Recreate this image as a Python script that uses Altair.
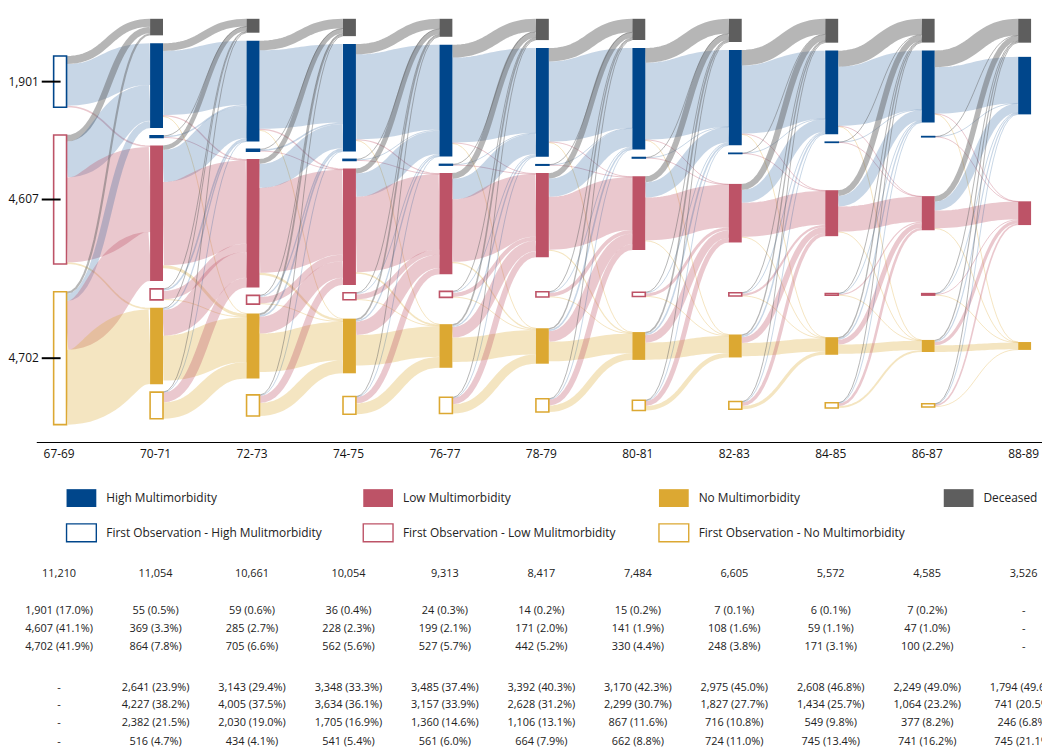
import altair as alt
import pandas as pd

# ---------------- data ----------------
periods = ["67-69", "70-71", "72-73", "74-75", "76-77", "78-79",
           "80-81", "82-83", "84-85", "86-87", "88-89"]
totals = [11210, 11054, 10661, 10054, 9313, 8417, 7484, 6605, 5572, 4585, 3526]

first_high = [1901, 55, 59, 36, 24, 14, 15, 7, 6, 7, None]
first_high_pct = [17.0, 0.5, 0.6, 0.4, 0.3, 0.2, 0.2, 0.1, 0.1, 0.2, None]
first_low = [4607, 369, 285, 228, 199, 171, 141, 108, 59, 47, None]
first_low_pct = [41.1, 3.3, 2.7, 2.3, 2.1, 2.0, 1.9, 1.6, 1.1, 1.0, None]
first_no = [4702, 864, 705, 562, 527, 442, 330, 248, 171, 100, None]
first_no_pct = [41.9, 7.8, 6.6, 5.6, 5.7, 5.2, 4.4, 3.8, 3.1, 2.2, None]

high = [None, 2641, 3143, 3348, 3485, 3392, 3170, 2975, 2608, 2249, 1794]
high_pct = [None, 23.9, 29.4, 33.3, 37.4, 40.3, 42.3, 45.0, 46.8, 49.0, 49.6]
low = [None, 4227, 4005, 3634, 3157, 2628, 2299, 1827, 1434, 1064, 741]
low_pct = [None, 38.2, 37.5, 36.1, 33.9, 31.2, 30.7, 27.7, 25.7, 23.2, 20.5]
no = [None, 2382, 2030, 1705, 1360, 1106, 867, 716, 549, 377, 246]
no_pct = [None, 21.5, 19.0, 16.9, 14.6, 13.1, 11.6, 10.8, 9.8, 8.2, 6.8]
deceased = [None, 516, 434, 541, 561, 664, 662, 724, 745, 741, 745]
deceased_pct = [None, 4.7, 4.1, 5.4, 6.0, 7.9, 8.8, 11.0, 13.4, 16.2, 21.1]

# flows between consecutive waves
# rows: source state H, FH, L, FL, N, FN ; columns: target Deceased, High, Low, No
SRC = ["H", "FH", "L", "FL", "N", "FN"]
TGT = ["D", "H", "L", "N"]
flows = [
    [[0, 0, 0, 0], [250, 1300, 50, 0], [0, 0, 0, 0], [200, 1120, 2650, 50], [0, 0, 0, 0], [66, 221, 1527, 2332]],
    [[240, 2000, 40, 10], [3, 45, 2, 0], [140, 1000, 2600, 90], [12, 50, 260, 20], [30, 40, 800, 1400], [9, 8, 303, 510]],
    [[300, 2450, 40, 10], [4, 48, 2, 0], [150, 750, 2650, 70], [12, 40, 200, 20], [55, 50, 520, 1200], [20, 10, 222, 405]],
    [[320, 2650, 35, 5], [3, 30, 1, 0], [160, 727, 2350, 50], [12, 30, 160, 15], [50, 40, 420, 950], [16, 8, 191, 340]],
    [[400, 2650, 30, 5], [3, 19, 1, 0], [180, 640, 1950, 40], [12, 30, 130, 15], [50, 40, 330, 760], [19, 13, 187, 286]],
    [[420, 2500, 25, 5], [2, 11, 1, 0], [170, 570, 1650, 35], [12, 25, 115, 12], [42, 50, 330, 610], [16, 14, 178, 205]],
    [[460, 2400, 20, 5], [2, 12, 1, 0], [185, 475, 1336, 30], [12, 25, 90, 10], [50, 50, 230, 531], [15, 13, 150, 140]],
    [[485, 2125, 20, 5], [1, 5, 1, 0], [190, 400, 1058, 25], [10, 20, 65, 8], [40, 45, 180, 411], [19, 13, 110, 100]],
    [[500, 1850, 15, 3], [1, 4, 1, 0], [180, 330, 783, 20], [6, 12, 35, 4], [40, 40, 150, 290], [14, 13, 80, 60]],
    [[520, 1450, 10, 2], [1, 5, 1, 0], [170, 280, 552, 15], [5, 10, 28, 3], [35, 35, 100, 206], [14, 14, 50, 20]],
]

legend_labels = ["High Multimorbidity", "Low Multimorbidity", "No Multimorbidity", "Deceased",
                 "First Observation - High Mulitmorbidity", "First Observation - Low Mulitmorbidity",
                 "First Observation - No Multimorbidity"]

# ---------------- styles / layout constants ----------------
FONT = "Open Sans"
COLOR = {"H": "#00468b", "L": "#bd5367", "N": "#dca832", "D": "#5e5e5e"}
LINK_OP = {"H": 0.22, "L": 0.32, "N": 0.3, "D": 0.45}
PLOT_W, PLOT_H = 1013, 745
LEFT = 37                      # page x of the plot's left edge
COL_STEP, COL0 = 97.2, 23.5
NODE_W = 13 / COL_STEP
EXT_Y0, EXT_Y1, PAD = 8.0, 411.0, 8.0
FIRST_PAD, FIRST_BOTTOM = 28.0, 417.0
KINDS = ["D", "H", "FH", "L", "FL", "N", "FN"]


def exists(c, k):
    return c >= 1 if k in ("D", "H", "L", "N") else c <= 9


# ---------------- sankey layout: nodes kept on horizontal lanes ----------------
nodes, cols, by = [], [[] for _ in periods], {}
for c in range(len(periods)):
    for k in KINDS:
        if exists(c, k):
            n = {"c": c, "k": k, "sl": [], "tl": [], "i": len(nodes)}
            nodes.append(n); cols[c].append(n); by[(c, k)] = n
links = []
for t, tab in enumerate(flows):
    for si, sk in enumerate(SRC):
        if (t, sk) not in by:
            continue
        for ti, tk in enumerate(TGT):
            v = tab[si][ti]
            if v > 0:
                l = {"s": by[(t, sk)], "t": by[(t + 1, tk)], "v": v, "i": len(links)}
                links.append(l); l["s"]["sl"].append(l); l["t"]["tl"].append(l)
for n in nodes:
    n["v"] = max(sum(l["v"] for l in n["sl"]), sum(l["v"] for l in n["tl"]))


def col_ky(c):
    return (EXT_Y1 - EXT_Y0 - (len(cols[c]) - 1) * PAD) / sum(n["v"] for n in cols[c])


dense = min(range(len(cols)), key=col_ky)
ky = col_ky(dense)

# lanes: centres of the densest wave when packed from the top
lane, y = {}, EXT_Y0
for n in cols[dense]:
    lane[n["k"]] = y + n["v"] * ky / 2
    y += n["v"] * ky + PAD

for ci, col in enumerate(cols):
    pad = FIRST_PAD if ci == 0 else PAD
    bottom = FIRST_BOTTOM if ci == 0 else EXT_Y1
    for n in col:
        h = n["v"] * ky
        key = n["k"] if ci > 0 else n["k"][1:]
        n["y0"] = EXT_Y0 if key == "D" else lane[key] - h / 2
        n["y1"] = n["y0"] + h
    # push overlapping nodes down, then back up from the bottom
    y = EXT_Y0
    for n in col:
        d = y - n["y0"]
        if d > 0:
            n["y0"] += d; n["y1"] += d
        y = n["y1"] + pad
    y = bottom
    for n in reversed(col):
        d = n["y1"] - y
        if d > 0:
            n["y0"] -= d; n["y1"] -= d
        y = n["y0"] - pad

for l in links:
    l["w"] = l["v"] * ky
for n in nodes:
    n["sl"].sort(key=lambda l: (l["t"]["y0"], l["i"]))
    n["tl"].sort(key=lambda l: (l["s"]["y0"], l["i"]))
    a = n["y0"]
    for l in n["sl"]:
        l["y0"] = a + l["w"] / 2; a += l["w"]
    b = n["y0"]
    for l in n["tl"]:
        l["y1"] = b + l["w"] / 2; b += l["w"]

# ---------------- tables for marks ----------------
NPTS = 24
link_rows = []
for l in links:
    xs = l["s"]["c"] + NODE_W / 2
    xt = l["t"]["c"] - NODE_W / 2
    xm = (xs + xt) / 2
    tk = l["t"]["k"]
    for j in range(NPTS + 1):
        u = j / NPTS
        b0, b1, b2, b3 = (1 - u) ** 3, 3 * (1 - u) ** 2 * u, 3 * (1 - u) * u ** 2, u ** 3
        link_rows.append({
            "lid": l["i"], "k": j,
            "x": b0 * xs + (b1 + b2) * xm + b3 * xt,
            "y": (b0 + b1) * l["y0"] + (b2 + b3) * l["y1"],
            "w": max(1.0, l["w"]), "col": COLOR[tk], "op": LINK_OP[tk],
        })
df_links = pd.DataFrame(link_rows)

node_rows = []
for n in nodes:
    k = n["k"]
    fo = k.startswith("F")
    base = COLOR[k[1:] if fo else k]
    node_rows.append({
        "x": n["c"] - NODE_W / 2, "x2": n["c"] + NODE_W / 2,
        "y": n["y0"], "y2": n["y1"],
        "fill": "#ffffff" if fo else base, "stroke": base, "sw": 1.6 if fo else 0,
    })
df_nodes = pd.DataFrame(node_rows)


def fmt(v, p):
    return "-" if v is None else f"{v:,} ({p:.1f}%)"


def to_idx(page_x):
    return (page_x - LEFT - COL0) / COL_STEP


ROW_Y = [568, 605, 623, 641, 682, 700, 718, 737]
table_rows = []
for c in range(len(periods)):
    cells = [f"{totals[c]:,}",
             fmt(first_high[c], first_high_pct[c]), fmt(first_low[c], first_low_pct[c]),
             fmt(first_no[c], first_no_pct[c]),
             fmt(high[c], high_pct[c]), fmt(low[c], low_pct[c]), fmt(no[c], no_pct[c]),
             fmt(deceased[c], deceased_pct[c])]
    for r, txt in enumerate(cells):
        table_rows.append({"x": c, "y": ROW_Y[r], "text": txt})
df_table = pd.DataFrame(table_rows)

# x axis (wave labels + baseline)
AXIS_Y = 435
df_xlab = pd.DataFrame({"x": list(range(len(periods))), "y": [AXIS_Y + 12] * len(periods),
                        "text": periods})
df_base = pd.DataFrame({"x": [to_idx(LEFT)], "x2": [to_idx(LEFT + PLOT_W)], "y": [AXIS_Y]})

# y axis at the first wave (counts of the three starting groups)
first_nodes = sorted(cols[0], key=lambda n: n["y0"])
first_counts = {"FH": first_high[0], "FL": first_low[0], "FN": first_no[0]}
df_ytick = pd.DataFrame({
    "x": [to_idx(42)] * 3, "x2": [to_idx(61)] * 3,
    "y": [(n["y0"] + n["y1"]) / 2 for n in first_nodes],
    "text": [f"{first_counts[n['k']]:,}" for n in first_nodes],
    "xl": [to_idx(39)] * 3,
})

LEG_X = [67, 366, 664, 951, 67, 366, 664]
LEG_Y = [490, 490, 490, 490, 525, 525, 525]
LEG_KEY = ["H", "L", "N", "D", "FH", "FL", "FN"]
leg_sq, leg_tx = [], []
for lab, px, py, k in zip(legend_labels, LEG_X, LEG_Y, LEG_KEY):
    fo = k.startswith("F")
    base = COLOR[k[1:] if fo else k]
    leg_sq.append({"x": to_idx(px), "x2": to_idx(px + 30), "y": py - 8, "y2": py - 8 + 18,
                   "fill": "#ffffff" if fo else base, "stroke": base, "sw": 1.4 if fo else 0})
    leg_tx.append({"x": to_idx(px + 40), "y": py - 8 + 9, "text": lab})
df_leg_sq = pd.DataFrame(leg_sq)
df_leg_tx = pd.DataFrame(leg_tx)

# ---------------- chart ----------------
xscale = alt.Scale(domain=[-COL0 / COL_STEP, (PLOT_W - COL0) / COL_STEP], nice=False, zero=False)
yscale = alt.Scale(domain=[0, PLOT_H], reverse=True, nice=False, zero=False)
X = lambda f: alt.X(f, scale=xscale, axis=None)
Y = lambda f: alt.Y(f, scale=yscale, axis=None)

links_layer = alt.Chart(df_links).mark_line(strokeCap="butt").encode(
    x=X("x:Q"), y=Y("y:Q"),
    detail="lid:N", order="k:Q",
    stroke=alt.Stroke("col:N", scale=None),
    strokeWidth=alt.StrokeWidth("w:Q", scale=None),
    strokeOpacity=alt.StrokeOpacity("op:Q", scale=None),
)

nodes_layer = alt.Chart(df_nodes).mark_rect().encode(
    x=X("x:Q"), x2="x2:Q", y=Y("y:Q"), y2="y2:Q",
    fill=alt.Fill("fill:N", scale=None),
    stroke=alt.Stroke("stroke:N", scale=None),
    strokeWidth=alt.StrokeWidth("sw:Q", scale=None),
)

base_layer = alt.Chart(df_base).mark_rule(color="#000000", strokeWidth=1.2).encode(
    x=X("x:Q"), x2="x2:Q", y=Y("y:Q"))
xlab_layer = alt.Chart(df_xlab).mark_text(font=FONT, fontSize=12, color="#111111",
                                          align="center", baseline="middle", dx=-1).encode(
    x=X("x:Q"), y=Y("y:Q"), text="text:N")
ytick_layer = alt.Chart(df_ytick).mark_rule(color="#000000", strokeWidth=2).encode(
    x=X("x:Q"), x2="x2:Q", y=Y("y:Q"))
ylab_layer = alt.Chart(df_ytick).mark_text(font=FONT, fontSize=12, color="#111111",
                                           align="right", baseline="middle").encode(
    x=X("xl:Q"), y=Y("y:Q"), text="text:N")

table_layer = alt.Chart(df_table).mark_text(font=FONT, fontSize=11, color="#222222",
                                            align="center", baseline="middle", dx=-1).encode(
    x=X("x:Q"), y=Y("y:Q"), text="text:N")

leg_sq_layer = alt.Chart(df_leg_sq).mark_rect().encode(
    x=X("x:Q"), x2="x2:Q", y=Y("y:Q"), y2="y2:Q",
    fill=alt.Fill("fill:N", scale=None),
    stroke=alt.Stroke("stroke:N", scale=None),
    strokeWidth=alt.StrokeWidth("sw:Q", scale=None),
)
leg_tx_layer = alt.Chart(df_leg_tx).mark_text(font=FONT, fontSize=12, color="#222222",
                                              align="left", baseline="middle").encode(
    x=X("x:Q"), y=Y("y:Q"), text="text:N")

chart = alt.layer(links_layer, nodes_layer, ytick_layer, ylab_layer, base_layer, xlab_layer,
                  table_layer, leg_sq_layer, leg_tx_layer).properties(
    width=PLOT_W, height=PLOT_H,
    padding={"left": LEFT - 8, "top": 0, "right": 0, "bottom": 0},
    autosize=alt.AutoSizeParams(type="none"),
    background="#ffffff",
).configure_view(stroke=None)

chart.save("out.html", embed_options={"renderer": "svg", "actions": False})
